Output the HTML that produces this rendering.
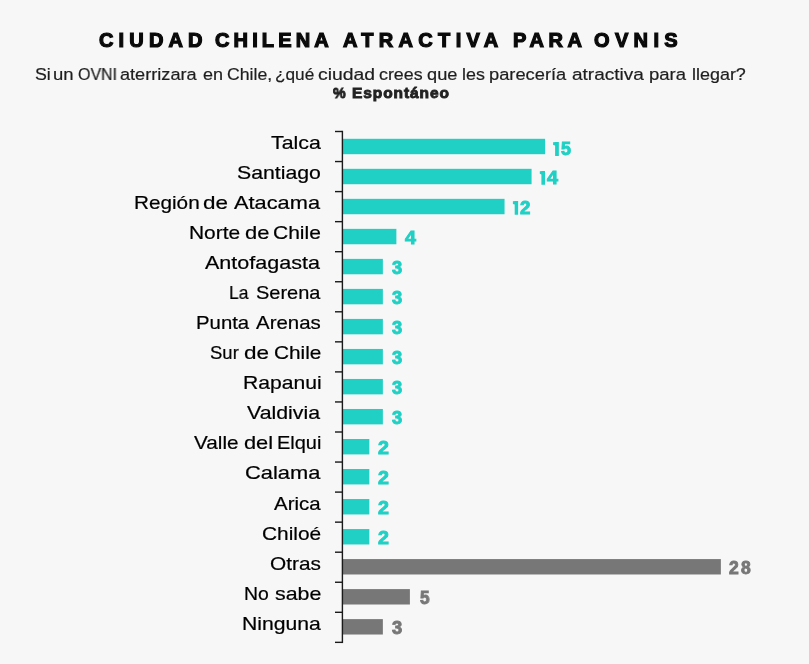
<!DOCTYPE html>
<html><head><meta charset="utf-8">
<style>
html,body{margin:0;padding:0;}
body{width:809px;height:664px;overflow:hidden;position:relative;background:#f7f7f7;font-family:"Liberation Sans",sans-serif;}
.t{position:absolute;white-space:nowrap;line-height:1;transform-origin:0 0;will-change:transform;}
.ti{font-weight:bold;color:#0a0a0a;-webkit-text-stroke:1.2px #0a0a0a;}
.su{color:#1e1e1e;-webkit-text-stroke:0.2px #1e1e1e;}
.pc{font-weight:bold;color:#222;-webkit-text-stroke:0.9px #222;}
.lb{color:#000;-webkit-text-stroke:0.2px #000;}
.vl{font-weight:bold;-webkit-text-stroke:0.9px currentColor;}
.axis{position:absolute;left:341.95px;top:130.90px;width:1.3px;height:512.05px;background:#1a1a1a;}
.tk{position:absolute;left:335.2px;width:7.4px;height:1.2px;background:#1a1a1a;}
.bar{position:absolute;left:342.30px;height:15.4px;}
</style></head><body>
<svg width="809" height="664" style="position:absolute;left:0;top:0"><rect x="342.3" y="138.80" width="202.80" height="15.4" fill="#20d0c4"/><rect x="342.3" y="168.82" width="189.28" height="15.4" fill="#20d0c4"/><rect x="342.3" y="198.84" width="162.24" height="15.4" fill="#20d0c4"/><rect x="342.3" y="228.86" width="54.08" height="15.4" fill="#20d0c4"/><rect x="342.3" y="258.88" width="40.56" height="15.4" fill="#20d0c4"/><rect x="342.3" y="288.90" width="40.56" height="15.4" fill="#20d0c4"/><rect x="342.3" y="318.92" width="40.56" height="15.4" fill="#20d0c4"/><rect x="342.3" y="348.94" width="40.56" height="15.4" fill="#20d0c4"/><rect x="342.3" y="378.96" width="40.56" height="15.4" fill="#20d0c4"/><rect x="342.3" y="408.98" width="40.56" height="15.4" fill="#20d0c4"/><rect x="342.3" y="439.00" width="27.04" height="15.4" fill="#20d0c4"/><rect x="342.3" y="469.02" width="27.04" height="15.4" fill="#20d0c4"/><rect x="342.3" y="499.04" width="27.04" height="15.4" fill="#20d0c4"/><rect x="342.3" y="529.06" width="27.04" height="15.4" fill="#20d0c4"/><rect x="342.3" y="559.08" width="378.56" height="15.4" fill="#777777"/><rect x="342.3" y="589.10" width="67.60" height="15.4" fill="#777777"/><rect x="342.3" y="619.12" width="40.56" height="15.4" fill="#777777"/><rect x="335.0" y="130.80" width="7.4" height="1.4" fill="#1a1a1a"/><rect x="335.0" y="160.85" width="7.4" height="1.4" fill="#1a1a1a"/><rect x="335.0" y="190.90" width="7.4" height="1.4" fill="#1a1a1a"/><rect x="335.0" y="220.95" width="7.4" height="1.4" fill="#1a1a1a"/><rect x="335.0" y="251.00" width="7.4" height="1.4" fill="#1a1a1a"/><rect x="335.0" y="281.05" width="7.4" height="1.4" fill="#1a1a1a"/><rect x="335.0" y="311.10" width="7.4" height="1.4" fill="#1a1a1a"/><rect x="335.0" y="341.15" width="7.4" height="1.4" fill="#1a1a1a"/><rect x="335.0" y="371.20" width="7.4" height="1.4" fill="#1a1a1a"/><rect x="335.0" y="401.25" width="7.4" height="1.4" fill="#1a1a1a"/><rect x="335.0" y="431.30" width="7.4" height="1.4" fill="#1a1a1a"/><rect x="335.0" y="461.35" width="7.4" height="1.4" fill="#1a1a1a"/><rect x="335.0" y="491.40" width="7.4" height="1.4" fill="#1a1a1a"/><rect x="335.0" y="521.45" width="7.4" height="1.4" fill="#1a1a1a"/><rect x="335.0" y="551.50" width="7.4" height="1.4" fill="#1a1a1a"/><rect x="335.0" y="581.55" width="7.4" height="1.4" fill="#1a1a1a"/><rect x="335.0" y="611.60" width="7.4" height="1.4" fill="#1a1a1a"/><rect x="335.0" y="641.65" width="7.4" height="1.4" fill="#1a1a1a"/><rect x="341.7" y="130.80" width="1.4" height="512.25" fill="#1a1a1a"/></svg>
<div id="tw0" class="t ti" style="left:98.95px;top:30.00px;font-size:20.00px;transform:scaleX(1.0000);letter-spacing:5.15px;">CIUDAD</div>
<div id="tw1" class="t ti" style="left:215.25px;top:30.00px;font-size:20.00px;transform:scaleX(1.0000);letter-spacing:4.14px;">CHILENA</div>
<div id="tw2" class="t ti" style="left:343.35px;top:30.00px;font-size:20.00px;transform:scaleX(1.0000);letter-spacing:5.32px;">ATRACTIVA</div>
<div id="tw3" class="t ti" style="left:513.45px;top:30.00px;font-size:20.00px;transform:scaleX(1.0000);letter-spacing:4.60px;">PARA</div>
<div id="tw4" class="t ti" style="left:594.25px;top:30.00px;font-size:20.00px;transform:scaleX(1.0000);letter-spacing:5.36px;">OVNIS</div>
<div id="sw0" class="t su" style="left:35.15px;top:66.00px;font-size:16.25px;transform:scaleX(1.0927);">Si</div>
<div id="sw1" class="t su" style="left:53.10px;top:66.00px;font-size:16.25px;transform:scaleX(1.1385);">un</div>
<div id="sw2" class="t su" style="left:77.70px;top:66.00px;font-size:16.25px;transform:scaleX(0.9814);">OVNI</div>
<div id="sw3" class="t su" style="left:120.40px;top:66.00px;font-size:16.25px;transform:scaleX(1.1158);">aterrizara</div>
<div id="sw4" class="t su" style="left:202.50px;top:66.00px;font-size:16.25px;transform:scaleX(1.1075);">en</div>
<div id="sw5" class="t su" style="left:226.65px;top:66.00px;font-size:16.25px;transform:scaleX(1.0886);">Chile,</div>
<div id="sw6" class="t su" style="left:274.60px;top:66.00px;font-size:16.25px;transform:scaleX(1.0592);">¿qué</div>
<div id="sw7" class="t su" style="left:318.15px;top:66.00px;font-size:16.25px;transform:scaleX(1.1925);">ciudad</div>
<div id="sw8" class="t su" style="left:379.20px;top:66.00px;font-size:16.25px;transform:scaleX(1.0968);">crees</div>
<div id="sw9" class="t su" style="left:427.40px;top:66.00px;font-size:16.25px;transform:scaleX(1.1212);">que</div>
<div id="sw10" class="t su" style="left:462.40px;top:66.00px;font-size:16.25px;transform:scaleX(1.0988);">les</div>
<div id="sw11" class="t su" style="left:489.20px;top:66.00px;font-size:16.25px;transform:scaleX(1.1247);">parecería</div>
<div id="sw12" class="t su" style="left:571.65px;top:66.00px;font-size:16.25px;transform:scaleX(1.1689);">atractiva</div>
<div id="sw13" class="t su" style="left:649.20px;top:66.00px;font-size:16.25px;transform:scaleX(1.1386);">para</div>
<div id="sw14" class="t su" style="left:691.60px;top:66.00px;font-size:16.25px;transform:scaleX(1.1037);">llegar?</div>
<div id="pc0" class="t pc" style="left:333.40px;top:85.00px;font-size:15.50px;transform:scaleX(0.9128);">%</div>
<div id="pc1" class="t pc" style="left:351.60px;top:85.00px;font-size:15.50px;transform:scaleX(1.0000);letter-spacing:0.91px;">Espontáneo</div>
<div id="lb0" class="t lb" style="left:270.55px;top:134.00px;font-size:18.50px;transform:scaleX(1.1523);">Talca</div>
<div id="lb1" class="t lb" style="left:237.25px;top:164.00px;font-size:18.50px;transform:scaleX(1.1491);">Santiago</div>
<div id="lb2_0" class="t lb" style="left:134.10px;top:194.00px;font-size:18.50px;transform:scaleX(1.1200);">Región</div>
<div id="lb2_1" class="t lb" style="left:203.45px;top:194.00px;font-size:18.50px;transform:scaleX(1.2131);">de</div>
<div id="lb2_2" class="t lb" style="left:234.30px;top:194.00px;font-size:18.50px;transform:scaleX(1.1782);">Atacama</div>
<div id="lb3_0" class="t lb" style="left:189.10px;top:224.00px;font-size:18.50px;transform:scaleX(1.1306);">Norte</div>
<div id="lb3_1" class="t lb" style="left:244.55px;top:224.00px;font-size:18.50px;transform:scaleX(1.1849);">de</div>
<div id="lb3_2" class="t lb" style="left:273.30px;top:224.00px;font-size:18.50px;transform:scaleX(1.1362);">Chile</div>
<div id="lb4" class="t lb" style="left:205.40px;top:254.00px;font-size:18.50px;transform:scaleX(1.1641);">Antofagasta</div>
<div id="lb5_0" class="t lb" style="left:229.35px;top:284.00px;font-size:18.50px;transform:scaleX(0.9487);">La</div>
<div id="lb5_1" class="t lb" style="left:255.75px;top:284.00px;font-size:18.50px;transform:scaleX(1.0797);">Serena</div>
<div id="lb6_0" class="t lb" style="left:196.10px;top:314.00px;font-size:18.50px;transform:scaleX(1.0995);">Punta</div>
<div id="lb6_1" class="t lb" style="left:256.30px;top:314.00px;font-size:18.50px;transform:scaleX(1.1043);">Arenas</div>
<div id="lb7_0" class="t lb" style="left:209.85px;top:344.00px;font-size:18.50px;transform:scaleX(0.9964);">Sur</div>
<div id="lb7_1" class="t lb" style="left:243.85px;top:344.00px;font-size:18.50px;transform:scaleX(1.2155);">de</div>
<div id="lb7_2" class="t lb" style="left:273.80px;top:344.00px;font-size:18.50px;transform:scaleX(1.1239);">Chile</div>
<div id="lb8" class="t lb" style="left:243.00px;top:374.00px;font-size:18.50px;transform:scaleX(1.1421);">Rapanui</div>
<div id="lb9" class="t lb" style="left:247.10px;top:404.00px;font-size:18.50px;transform:scaleX(1.1520);">Valdivia</div>
<div id="lb10_0" class="t lb" style="left:194.30px;top:434.00px;font-size:18.50px;transform:scaleX(1.1205);">Valle</div>
<div id="lb10_1" class="t lb" style="left:243.65px;top:434.00px;font-size:18.50px;transform:scaleX(1.1783);">del</div>
<div id="lb10_2" class="t lb" style="left:277.30px;top:434.00px;font-size:18.50px;transform:scaleX(1.0787);">Elqui</div>
<div id="lb11" class="t lb" style="left:244.80px;top:464.00px;font-size:18.50px;transform:scaleX(1.1826);">Calama</div>
<div id="lb12" class="t lb" style="left:273.60px;top:495.00px;font-size:18.50px;transform:scaleX(1.1042);">Arica</div>
<div id="lb13" class="t lb" style="left:261.90px;top:525.00px;font-size:18.50px;transform:scaleX(1.1275);">Chiloé</div>
<div id="lb14" class="t lb" style="left:270.15px;top:555.00px;font-size:18.50px;transform:scaleX(1.1250);">Otras</div>
<div id="lb15_0" class="t lb" style="left:244.30px;top:585.00px;font-size:18.50px;transform:scaleX(1.0483);">No</div>
<div id="lb15_1" class="t lb" style="left:274.70px;top:585.00px;font-size:18.50px;transform:scaleX(1.1564);">sabe</div>
<div id="lb16" class="t lb" style="left:241.50px;top:615.00px;font-size:18.50px;transform:scaleX(1.1432);">Ninguna</div>
<div id="vl0b" class="t vl" style="left:561.40px;top:141.00px;font-size:17.50px;transform:scaleX(1.0207);color:#20d0c4;">5</div>
<div id="vl1b" class="t vl" style="left:547.25px;top:170.00px;font-size:17.50px;transform:scaleX(1.1270);color:#20d0c4;">4</div>
<div id="vl2b" class="t vl" style="left:519.85px;top:200.00px;font-size:17.50px;transform:scaleX(1.0682);color:#20d0c4;">2</div>
<div id="vl3" class="t vl" style="left:405.35px;top:230.00px;font-size:17.50px;transform:scaleX(1.1220);color:#20d0c4;">4</div>
<div id="vl4" class="t vl" style="left:391.70px;top:260.00px;font-size:17.50px;transform:scaleX(1.0476);color:#20d0c4;">3</div>
<div id="vl5" class="t vl" style="left:391.70px;top:290.00px;font-size:17.50px;transform:scaleX(1.0476);color:#20d0c4;">3</div>
<div id="vl6" class="t vl" style="left:391.70px;top:320.00px;font-size:17.50px;transform:scaleX(1.0476);color:#20d0c4;">3</div>
<div id="vl7" class="t vl" style="left:391.70px;top:350.00px;font-size:17.50px;transform:scaleX(1.0476);color:#20d0c4;">3</div>
<div id="vl8" class="t vl" style="left:391.70px;top:380.00px;font-size:17.50px;transform:scaleX(1.0476);color:#20d0c4;">3</div>
<div id="vl9" class="t vl" style="left:391.70px;top:410.00px;font-size:17.50px;transform:scaleX(1.0476);color:#20d0c4;">3</div>
<div id="vl10" class="t vl" style="left:377.55px;top:440.00px;font-size:17.50px;transform:scaleX(1.1193);color:#20d0c4;">2</div>
<div id="vl11" class="t vl" style="left:377.55px;top:470.00px;font-size:17.50px;transform:scaleX(1.1193);color:#20d0c4;">2</div>
<div id="vl12" class="t vl" style="left:377.55px;top:500.00px;font-size:17.50px;transform:scaleX(1.1193);color:#20d0c4;">2</div>
<div id="vl13" class="t vl" style="left:377.55px;top:530.00px;font-size:17.50px;transform:scaleX(1.1193);color:#20d0c4;">2</div>
<div id="vl14" class="t vl" style="left:728.65px;top:560.00px;font-size:17.50px;transform:scaleX(1.0000);letter-spacing:2.15px;color:#777777;">28</div>
<div id="vl15" class="t vl" style="left:419.50px;top:590.00px;font-size:17.50px;transform:scaleX(0.9744);color:#777777;">5</div>
<div id="vl16" class="t vl" style="left:391.70px;top:620.00px;font-size:17.50px;transform:scaleX(1.0476);color:#777777;">3</div>
<svg width="809" height="664" style="position:absolute;left:0;top:0"><polygon points="553.10,142.30 555.70,142.00 558.85,142.00 558.85,155.90 555.10,155.90 555.10,145.50 553.10,144.90" fill="#20d0c4"/><polygon points="539.80,171.20 542.00,170.90 545.00,170.90 545.00,184.80 541.40,184.80 541.40,174.40 539.80,173.80" fill="#20d0c4"/><polygon points="512.90,201.30 515.30,201.00 518.13,201.00 518.13,214.80 514.70,214.80 514.70,204.50 512.90,203.90" fill="#20d0c4"/></svg>
</body></html>
